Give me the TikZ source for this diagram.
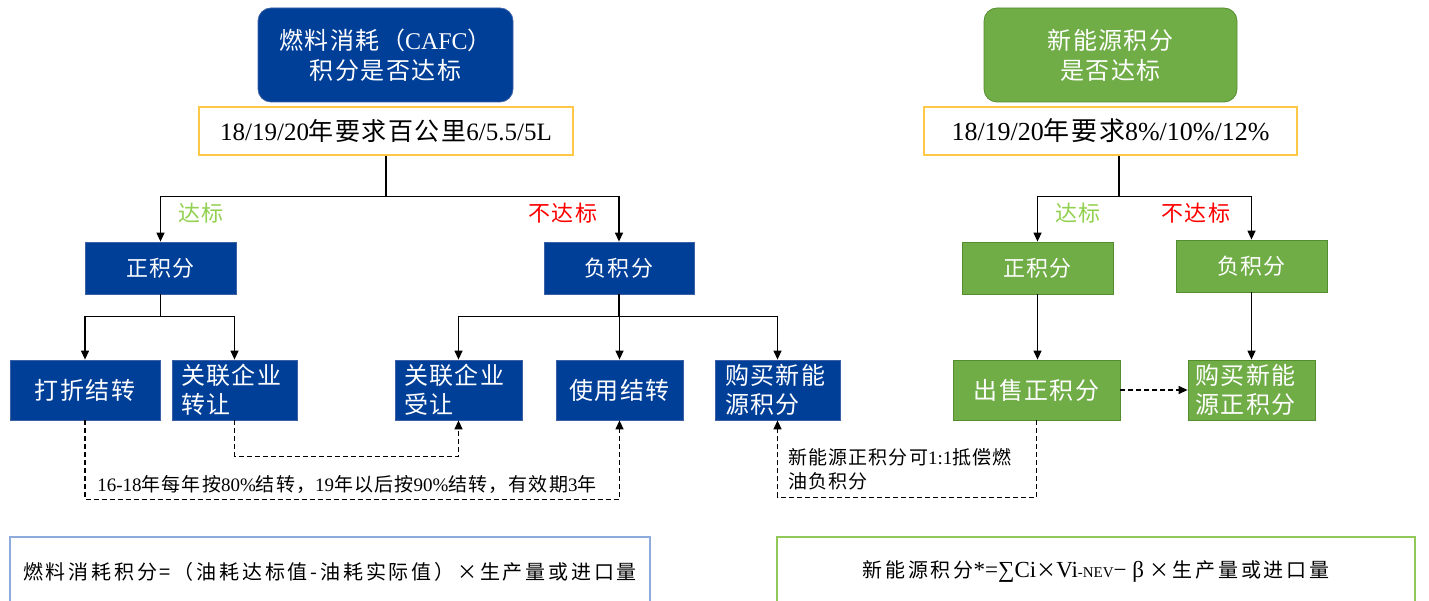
\documentclass[tikz,border=0pt]{standalone}
\usepackage{fontspec}
\setmainfont[LetterSpace=6]{Noto Sans CJK SC}
\newfontfamily\lat{Liberation Serif}
\usetikzlibrary{arrows.meta}

\definecolor{cblue}{RGB}{0,63,152}
\definecolor{cblueedge}{RGB}{60,95,165}
\definecolor{cgreen}{RGB}{112,173,71}
\definecolor{cgreenedge}{RGB}{84,140,48}
\definecolor{cyellow}{RGB}{255,200,70}
\definecolor{lgreen}{RGB}{146,208,80}
\definecolor{cred}{RGB}{255,0,0}
\definecolor{fblue}{RGB}{143,170,220}
\definecolor{fgreen}{RGB}{146,200,90}

\newcommand{\fsz}[2]{\fontsize{#1pt}{#2pt}\selectfont}

\tikzset{
  bluebox/.style={draw=cblueedge, fill=cblue, text=white, inner sep=0pt, line width=0.8pt},
  greenbox/.style={draw=cgreenedge, fill=cgreen, text=white, inner sep=0pt, line width=0.8pt},
  titlebox/.style={rounded corners=13pt, minimum height=94pt, font=\fsz{24}{30}, align=center},
  reqbox/.style={draw=cyellow, fill=white, line width=1.6pt, inner sep=0pt, minimum height=48pt, font=\fsz{25}{28}},
  midbox/.style={minimum width=151pt, minimum height=52pt, font=\fsz{22}{26}},
  lowbox/.style={minimum height=60pt, font=\fsz{24}{29}},
  conn/.style={line width=1.3pt},
  arr/.style={line width=1.3pt, -{Triangle[length=9pt,width=8pt]}},
  dasharr/.style={line width=1.3pt, dash pattern=on 5pt off 3pt, -{Triangle[length=9pt,width=8pt]}},
  okl/.style={text=lgreen, font=\fsz{22}{26}},
  nokl/.style={text=cred, font=\fsz{22}{26}},
  notel/.style={font=\fsz{19}{24}, inner sep=0pt},
  formula/.style={draw, line width=1.2pt, fill=white, minimum height=70pt, inner sep=0pt, font=\fsz{20}{24}\addfontfeatures{LetterSpace=14}}
}

\begin{document}
\begin{tikzpicture}[x=1pt,y=-1pt]
\useasboundingbox (0,0) rectangle (1429,601);
\clip (0,0) rectangle (1429,601);

% ---------- left part ----------
\node[bluebox,titlebox,minimum width=255pt] (t1) at (385.5,55) {燃料消耗（{\lat CAFC}）\\积分是否达标};
\node[reqbox,minimum width=374pt] (r1) at (386,131) {{\lat 18/19/20}年要求百公里{\lat 6/5.5/5L}};

\node[bluebox,midbox] (p1) at (160.5,268) {正积分};
\node[bluebox,midbox,minimum width=150pt] (n1) at (619,268) {负积分};

\node[okl] (ok1) at (201,213) {达标};
\node[nokl] (nok1) at (563,213) {不达标};

\node[bluebox,lowbox,minimum width=150pt] (dz) at (85,390) {打折结转};
\node[bluebox,lowbox,minimum width=125pt,text width=107pt,align=left] (gz) at (234.5,390) {关联企业\\转让};
\node[bluebox,lowbox,minimum width=127pt,text width=109pt,align=left] (gs) at (458.5,390) {关联企业\\受让};
\node[bluebox,lowbox,minimum width=127pt] (use) at (619.5,390) {使用结转};
\node[bluebox,lowbox,minimum width=125pt,text width=105pt,align=left] (buy1) at (777.5,390) {购买新能\\源积分};

\draw[conn] (r1.south) -- ++(0,41) coordinate (c1);
\draw[arr] (c1) -| (p1.north);
\draw[arr] (c1) -| (n1.north);

\draw[conn] (p1.south) -- ++(0,22) coordinate (c2);
\draw[arr] (c2) -| (dz.north);
\draw[arr] (c2) -| (gz.north);

\draw[conn] (n1.south) -- ++(0,22) coordinate (c3);
\draw[arr] (c3) -| (gs.north);
\draw[arr] (c3) -| (use.north);
\draw[arr] (c3) -| (buy1.north);

\draw[dasharr] (gz.south) -- ++(0,36) -| (gs.south);
\draw[dasharr] (dz.south) -- ++(0,79) -| (use.south);

\node[notel] (note1) at (347,484) {{\lat 16-18}年每年按{\lat 80\%}结转，{\lat 19}年以后按{\lat 90\%}结转，有效期{\lat 3}年};

% ---------- right part ----------
\node[greenbox,titlebox,minimum width=253pt] (t2) at (1110.5,55) {新能源积分\\是否达标};
\node[reqbox,minimum width=373pt,font=\fsz{26}{28}] (r2) at (1110.5,131) {{\lat 18/19/20}年要求{\lat 8\%/10\%/12\%}};

\node[greenbox,midbox] (p2) at (1037.5,268) {正积分};
\node[greenbox,midbox] (n2) at (1251.5,266) {负积分};

\node[okl] (ok2) at (1078,213) {达标};
\node[nokl] (nok2) at (1196,213) {不达标};

\node[greenbox,lowbox,minimum width=167pt] (sell) at (1036.5,390) {出售正积分};
\node[greenbox,lowbox,minimum width=127pt,text width=112pt,align=left] (buy2) at (1251.5,390) {购买新能\\源正积分};

\draw[conn] ([xshift=8.5pt]r2.south) -- ++(0,41) coordinate (c4);
\draw[arr] (c4) -| (p2.north);
\draw[arr] (c4) -| (n2.north);

\draw[arr] (p2.south) -- (p2.south |- sell.north);
\draw[arr] (n2.south) -- (n2.south |- buy2.north);
\draw[dasharr] (sell.east) -- (buy2.west);
\draw[dasharr] (sell.south) -- ++(0,77) -| (buy1.south);

\node[notel,anchor=west,align=left] (note2) at (788,469) {新能源正积分可{\lat 1:1}抵偿燃\\油负积分};

% ---------- formulas ----------
\node[formula,draw=fblue,minimum width=640pt] (f1) at (330,572) {燃料消耗积分=（油耗达标值-油耗实际值）×生产量或进口量};
\node[formula,draw=fgreen,minimum width=638pt] (f2) at (1096,572) {新能源积分{\lat\fsz{23}{24}*=∑Ci}×{\lat\fsz{23}{24}Vi{\fsz{15}{15}-NEV}− β }×生产量或进口量};
\end{tikzpicture}
\end{document}
